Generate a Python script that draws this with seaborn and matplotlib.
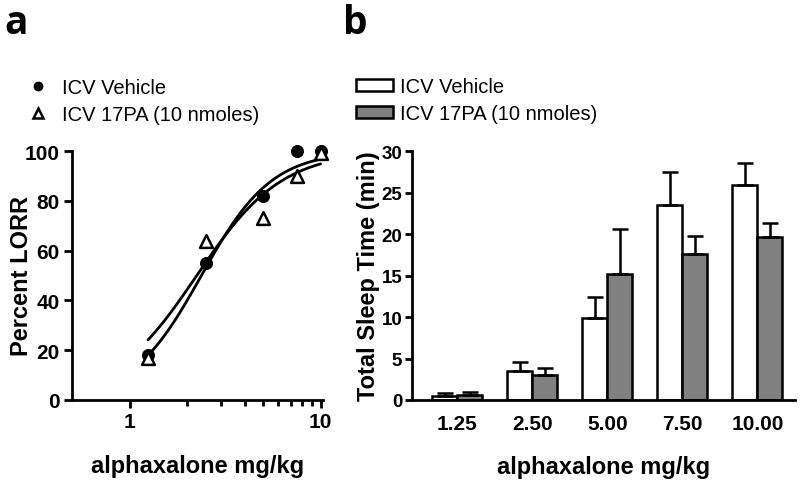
import numpy as np
import pandas as pd
import matplotlib
matplotlib.use("Agg")
import matplotlib.pyplot as plt
import seaborn as sns
from matplotlib.lines import Line2D
from matplotlib.patches import Patch
from matplotlib.ticker import NullFormatter, FixedLocator, FixedFormatter

# --------------------
# Data
# --------------------
groups = ["ICV Vehicle", "ICV 17PA (10 nmoles)"]

# panel a: percent LORR vs dose
doses = [1.25, 2.5, 5, 7.5, 10]
lorr_vehicle = [18, 55, 82, 100, 100]
lorr_17pa = [17, 64, 73, 90, 99]

# sigmoid fit parameters (EC50, hill slope, top)
fit_vehicle = (2.38, 2.36, 100)
fit_17pa = (2.25, 1.95, 100)

# panel b: total sleep time
dose_labels = ["1.25", "2.50", "5.00", "7.50", "10.00"]
sleep_vehicle = [0.5, 3.5, 9.9, 23.5, 25.9]
sleep_17pa = [0.6, 3.0, 15.2, 17.6, 19.7]
sem_vehicle = [0.4, 1.1, 2.5, 4.0, 2.7]
sem_17pa = [0.4, 0.8, 5.4, 2.2, 1.6]

# --------------------
# Style
# --------------------
sns.set_style("ticks")
plt.rcParams["font.family"] = ["Liberation Sans", "DejaVu Sans"]
plt.rcParams["axes.linewidth"] = 2.0
for key in ["text.color", "axes.labelcolor", "axes.edgecolor", "xtick.color", "ytick.color"]:
    plt.rcParams[key] = "black"

W, H = 800, 485
fig = plt.figure(figsize=(8, 4.85), dpi=100)

def box(l, r, t, b):
    return [l / W, 1 - b / H, (r - l) / W, (b - t) / H]

ax_a = fig.add_axes(box(72, 323, 152, 401))
ax_b = fig.add_axes(box(412, 795, 152.3, 401))

# --------------------
# Panel a
# --------------------
x_fit = np.geomspace(1.25, 10, 200)
for ec50, hill, top in [fit_vehicle, fit_17pa]:
    sns.lineplot(x=x_fit, y=top / (1 + (ec50 / x_fit) ** hill), color="black",
                 linewidth=2.0, ax=ax_a)

sns.scatterplot(x=doses, y=lorr_vehicle, marker="o", color="black", s=75,
                edgecolor="black", zorder=3, clip_on=False, ax=ax_a)
sns.scatterplot(x=doses, y=lorr_17pa, marker="^", color="white", s=85,
                edgecolor="black", linewidth=1.8, zorder=3, clip_on=False, ax=ax_a)

ax_a.set_xscale("log")
ax_a.set_xlim(0.5, 10.3)
ax_a.set_ylim(0, 100)
ax_a.xaxis.set_major_locator(FixedLocator([1, 10]))
ax_a.xaxis.set_major_formatter(FixedFormatter(["1", "10"]))
ax_a.xaxis.set_minor_locator(FixedLocator(list(range(2, 10))))
ax_a.xaxis.set_minor_formatter(NullFormatter())
ax_a.set_yticks([0, 20, 40, 60, 80, 100])
ax_a.tick_params(axis="both", which="major", length=6, width=2, labelsize=15, pad=3)
ax_a.tick_params(axis="x", which="minor", length=4, width=2)
for lab in ax_a.get_xticklabels() + ax_a.get_yticklabels():
    lab.set_fontweight("bold")
ax_a.set_xlabel("alphaxalone mg/kg", fontsize=17, fontweight="bold", labelpad=16)
ax_a.set_ylabel("Percent LORR", fontsize=17, fontweight="bold")
ax_a.yaxis.set_label_coords((33 - 72) / 251, 0.5)
sns.despine(ax=ax_a)

handles_a = [
    Line2D([], [], marker="o", linestyle="none", color="black", markersize=6),
    Line2D([], [], marker="^", linestyle="none", markerfacecolor="white",
           markeredgecolor="black", markeredgewidth=1.8, markersize=7),
]
fig.legend(handles_a, groups, loc="upper left", bbox_to_anchor=(18 / W, 1 - 69 / H),
           frameon=False, fontsize=14.5, handletextpad=0.7, labelspacing=0.4,
           handlelength=1.0, borderpad=0)

# --------------------
# Panel b
# --------------------
df_b = pd.DataFrame({
    "dose": dose_labels * 2,
    "sleep": sleep_vehicle + sleep_17pa,
    "group": [groups[0]] * 5 + [groups[1]] * 5,
})
sns.barplot(data=df_b, x="dose", y="sleep", hue="group", hue_order=groups,
            palette=["white", "#808080"], saturation=1, edgecolor="black",
            linewidth=1.8, width=0.667, errorbar=None, legend=False, ax=ax_b)

for container, sems in zip(ax_b.containers, [sem_vehicle, sem_17pa]):
    xs = [p.get_x() + p.get_width() / 2 for p in container]
    ys = [p.get_height() for p in container]
    ax_b.errorbar(xs, ys, yerr=[np.zeros(len(sems)), sems], fmt="none",
                  ecolor="black", elinewidth=1.8, capsize=5.5, capthick=1.8, zorder=1)

ax_b.set_xlim(-0.6, 4.5)
ax_b.set_ylim(0, 30)
ax_b.set_yticks([0, 5, 10, 15, 20, 25, 30])
ax_b.tick_params(axis="y", length=5, width=2, labelsize=13.5, pad=2)
ax_b.tick_params(axis="x", length=0, labelsize=15, pad=10)
for lab in ax_b.get_xticklabels() + ax_b.get_yticklabels():
    lab.set_fontweight("bold")
ax_b.set_xlabel("alphaxalone mg/kg", fontsize=17, fontweight="bold", labelpad=16)
ax_b.set_ylabel("Total Sleep Time (min)", fontsize=17, fontweight="bold")
ax_b.yaxis.set_label_coords((380 - 412) / 383, 0.5)
sns.despine(ax=ax_b)

handles_b = [
    Patch(facecolor="white", edgecolor="black", linewidth=1.8),
    Patch(facecolor="#808080", edgecolor="black", linewidth=1.8),
]
fig.legend(handles_b, groups, loc="upper left", bbox_to_anchor=(346 / W, 1 - 68 / H),
           frameon=False, fontsize=14.5, handletextpad=0.35, labelspacing=0.4,
           handlelength=1.85, handleheight=0.6, borderpad=0)

# panel letters
fig.text(4 / W, 1 - 4 / H, "a", fontsize=28, fontweight="bold", va="top",
         family=["Open Sans", "DejaVu Sans"])
fig.text(343 / W, 1 - 4 / H, "b", fontsize=28, fontweight="bold", va="top",
         family=["Open Sans", "DejaVu Sans"])

fig.savefig("out.png", dpi=100)
